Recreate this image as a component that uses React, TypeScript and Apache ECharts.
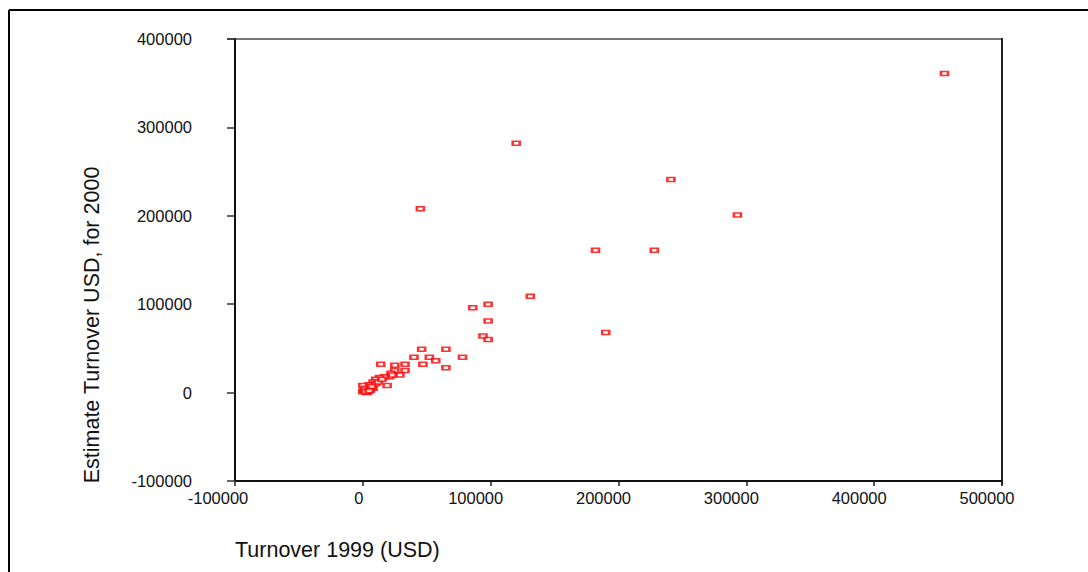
import React, { useEffect, useRef } from "react";
import * as echarts from "echarts";

const turnover1999: number[] = [
  455000, 120000, 45000, 241000, 293000, 182000, 228000, 131000, 86000, 98000,
  98000, 94000, 98000, 190000, 46000, 65000, 40000, 52000, 57000, 78000,
  65000, 47000, 14000, 25000, 33000, 33000, 25000, 22000, 29000, 21000,
  17000, 13000, 10000, 19000, 8000, 5000, 0, 2000, 0, 4000,
  8000, 6000, 3000, 1000, 10000, 12000, 7000, 15000, 23000, 2000, 5000,
];
const estimate2000: number[] = [
  361000, 282000, 208000, 241000, 201000, 161000, 161000, 109000, 96000, 100000,
  81000, 64000, 60000, 68000, 49000, 49000, 40000, 40000, 36000, 40000,
  28000, 32000, 32000, 31000, 32000, 25000, 25000, 22000, 20000, 18000,
  18000, 17000, 15000, 8000, 12000, 9000, 8000, 5000, 1000, 1000,
  5000, 3000, 0, 3000, 10000, 12000, 7000, 15000, 20000, 1000, 2000,
];

const xTitle = "Turnover 1999 (USD)";
const yTitle = "Estimate Turnover USD, for 2000";

export default function App() {
  const ref = useRef<HTMLDivElement>(null);
  useEffect(() => {
    if (!ref.current) return;
    const chart = echarts.init(ref.current, undefined, { renderer: "svg" });
    const font = "Liberation Sans, Arial, sans-serif";
    const fmt = (v: number) => String(v);
    const base = { color: "#111", fontSize: 16.5, fontFamily: font };
    chart.setOption({
      animation: false,
      backgroundColor: "#fff",
      grid: { left: 235, top: 39, right: 86, bottom: 91, containLabel: false },
      xAxis: {
        type: "value",
        min: -100000,
        max: 500000,
        interval: 100000,
        axisLine: { show: true, onZero: false, lineStyle: { color: "#111", width: 2 } },
        axisTick: { show: true, inside: false, length: 5, lineStyle: { color: "#222", width: 1.5 } },
        axisLabel: {
          ...base,
          margin: 8,
          formatter: (v: number) =>
            v === 0 ? "{z|0}" : v < 0 ? `{n|${v}}` : `{p|${v}}`,
          rich: {
            z: { ...base, padding: [0, 8, 0, 0] },
            n: { ...base, padding: [0, 34, 0, 0] },
            p: { ...base, padding: [0, 30, 0, 0] },
          },
        },
        splitLine: { show: false },
      },
      yAxis: {
        type: "value",
        min: -100000,
        max: 400000,
        interval: 100000,
        axisLine: { show: true, onZero: false, lineStyle: { color: "#111", width: 2 } },
        axisTick: { show: true, inside: false, length: 8, lineStyle: { color: "#333", width: 1.5 } },
        axisLabel: { ...base, margin: 43, formatter: fmt },
        splitLine: { show: false },
      },
      series: [
        {
          type: "scatter",
          symbol: "rect",
          symbolSize: [7, 4],
          itemStyle: { color: "#ffffff", borderColor: "#ff0000", borderWidth: 2 },
          data: turnover1999.map((x, i) => [x, estimate2000[i]]),
        },
      ],
      graphic: [
        { type: "line", shape: { x1: 9, y1: 10, x2: 1088, y2: 10 }, style: { stroke: "#000", lineWidth: 2 } },
        { type: "line", shape: { x1: 9, y1: 10, x2: 9, y2: 572 }, style: { stroke: "#000", lineWidth: 2 } },
        { type: "line", shape: { x1: 227, y1: 39, x2: 1002, y2: 39 }, style: { stroke: "#777", lineWidth: 2 } },
        { type: "line", shape: { x1: 1002, y1: 38, x2: 1002, y2: 485 }, style: { stroke: "#222", lineWidth: 2 } },
        {
          type: "text",
          left: 235,
          top: 539,
          style: { text: xTitle, fontSize: 21.5, fontFamily: font, fill: "#111" },
        },
        {
          type: "text",
          x: 92,
          y: 325,
          rotation: Math.PI / 2,
          style: {
            text: yTitle,
            fontSize: 21.5,
            fontFamily: font,
            fill: "#111",
            align: "center",
            verticalAlign: "middle",
          },
        },
      ],
    });
    return () => chart.dispose();
  }, []);
  return (
    <div
      ref={ref}
      style={{ position: "absolute", left: 0, top: 0, width: 1088, height: 572 }}
    />
  );
}
